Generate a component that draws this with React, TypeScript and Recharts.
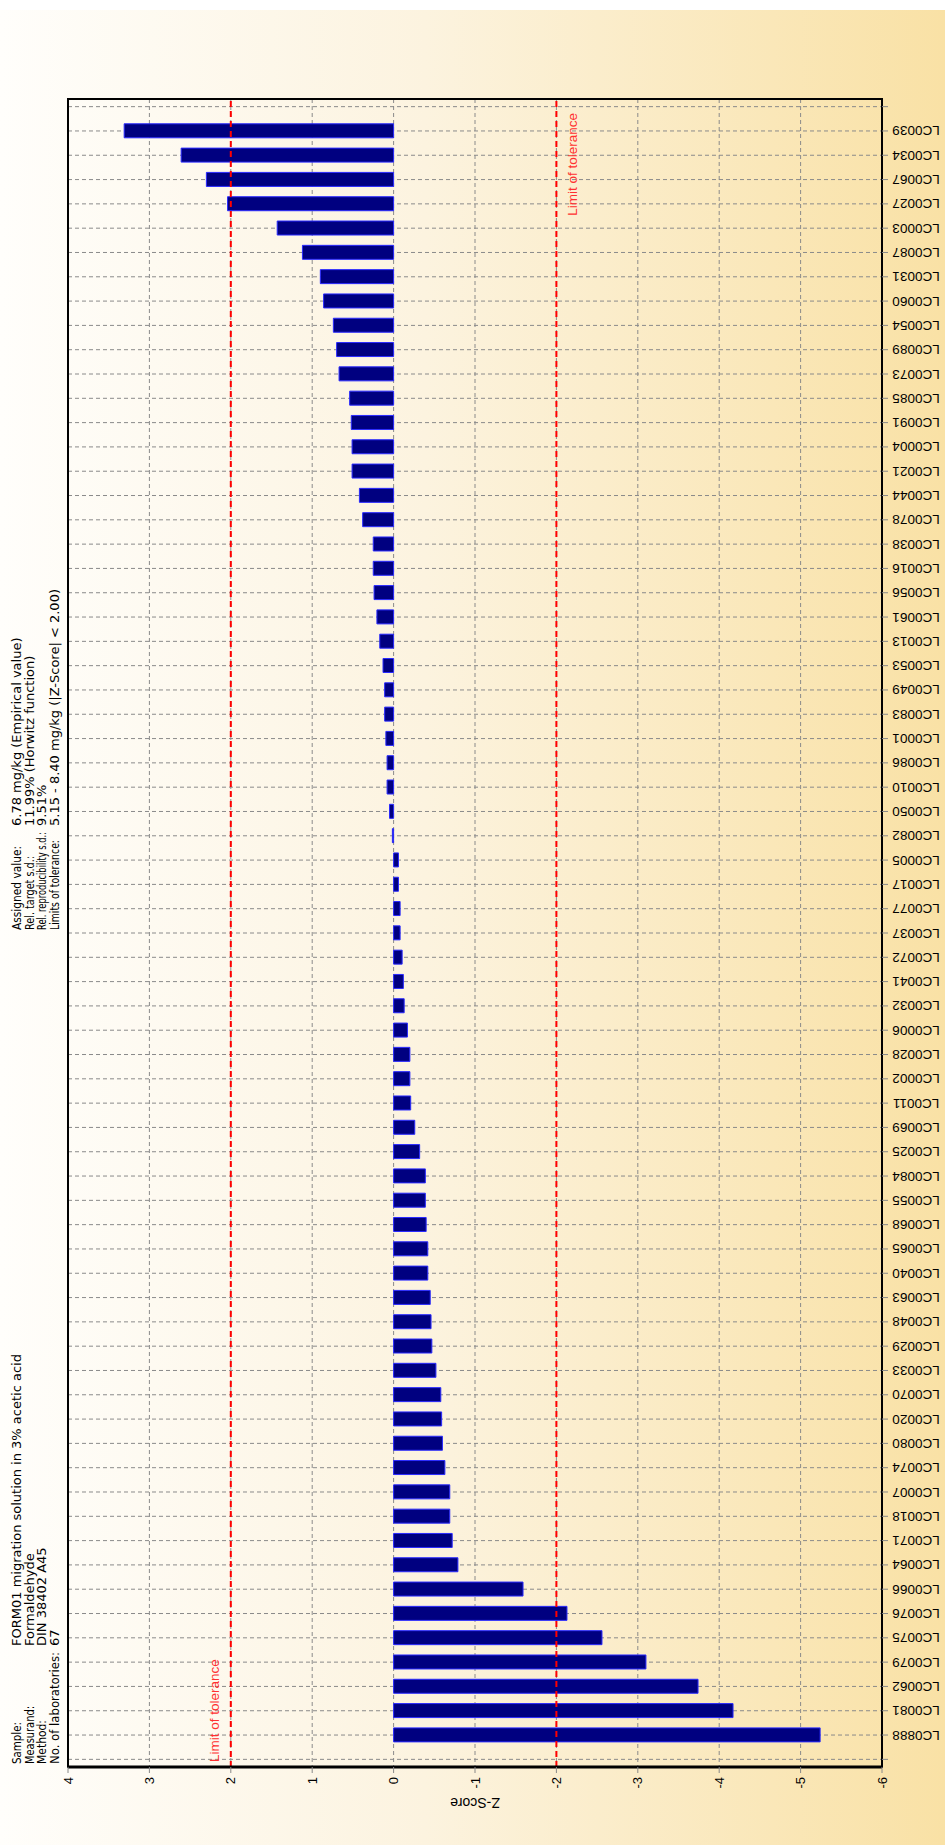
import { BarChart, Bar, XAxis, YAxis, CartesianGrid, ReferenceLine, ReferenceArea } from 'recharts'

// Labs, sorted as in the printout (top row first)
const labs = [
  'LC0039', 'LC0034', 'LC0067', 'LC0027', 'LC0003', 'LC0087', 'LC0031', 'LC0060', 'LC0054', 'LC0089',
  'LC0073', 'LC0085', 'LC0091', 'LC0004', 'LC0021', 'LC0044', 'LC0078', 'LC0038', 'LC0016', 'LC0056',
  'LC0061', 'LC0013', 'LC0053', 'LC0049', 'LC0083', 'LC0001', 'LC0086', 'LC0010', 'LC0050', 'LC0082',
  'LC0005', 'LC0017', 'LC0077', 'LC0037', 'LC0072', 'LC0041', 'LC0032', 'LC0006', 'LC0028', 'LC0002',
  'LC0011', 'LC0069', 'LC0025', 'LC0084', 'LC0055', 'LC0068', 'LC0065', 'LC0040', 'LC0063', 'LC0048',
  'LC0029', 'LC0033', 'LC0070', 'LC0020', 'LC0080', 'LC0074', 'LC0007', 'LC0018', 'LC0071', 'LC0064',
  'LC0066', 'LC0076', 'LC0075', 'LC0079', 'LC0062', 'LC0081', 'LC0888',
]

const zScores = [
  3.31, 2.61, 2.30, 2.04, 1.43, 1.12, 0.90, 0.86, 0.74, 0.70,
  0.67, 0.54, 0.52, 0.51, 0.51, 0.42, 0.38, 0.25, 0.25, 0.24,
  0.205, 0.17, 0.13, 0.11, 0.11, 0.095, 0.08, 0.08, 0.05, 0.015,
  -0.06, -0.06, -0.08, -0.08, -0.105, -0.12, -0.13, -0.17, -0.2, -0.2,
  -0.21, -0.26, -0.32, -0.39, -0.39, -0.40, -0.42, -0.42, -0.45, -0.46,
  -0.47, -0.52, -0.58, -0.59, -0.60, -0.63, -0.69, -0.69, -0.72, -0.79,
  -1.59, -2.13, -2.56, -3.1, -3.74, -4.17, -5.24,
]

const zTicks = [4, 3, 2, 1, 0, -1, -2, -3, -4, -5, -6]
const toleranceLimits = [2, -2]

const sampleLabels = ['Sample:', 'Measurand:', 'Method:', 'No. of laboratories:']
const sampleLabelLen = [42, 58, 44, 112]
const sampleValues = ['FORM01 migration solution in 3% acetic acid', 'Formaldehyde', 'DIN 38402 A45', '67']
const statLabels = ['Assigned value:', 'Rel. target s.d.:', 'Rel. reproducibility s.d.:', 'Limits of tolerance:']
const statLabelLen = [84, 74, 98, 90]
const statValues = ['6.78 mg/kg (Empirical value)', '11.99% (Horwitz function)', '9.51%', '5.15 - 8.40 mg/kg   (|Z-Score| < 2.00)']

const data = labs.map((lab, i) => ({ lab, idx: i, z: zScores[i] }))
// one empty row above and below the labs, like the original frame
const rowTicks = Array.from({ length: labs.length + 2 }, (_, i) => i - 1)
const rowPad = 1.315
const rowDomain = [-rowPad, labs.length - 1 + rowPad]

const W = 945
const H = 1845
const font = '"Liberation Sans", Arial, sans-serif'

const LabTick = (props: any) => {
  const { x, y, payload } = props
  const name = labs[payload.value]
  if (!name) return null
  const cx = x + 26
  return (
    <text x={cx} y={y} textAnchor="middle" dominantBaseline="central" fontSize={13.5}
      fontFamily={font} fill="#000" transform={`rotate(180 ${cx} ${y})`}>
      {name}
    </text>
  )
}

const ZTick = (props: any) => {
  const { x, y, payload } = props
  return (
    <text x={x} y={y} dy="0.36em" textAnchor="end" fontSize={13} fontFamily={font} fill="#000"
      transform={`rotate(-90 ${x} ${y})`}>
      {payload.value}
    </text>
  )
}

const LimitLabel = (props: any) => {
  const { viewBox, atTop } = props
  if (!viewBox) return null
  const { x, y, height } = viewBox
  const bx = atTop ? x + 21 : x - 12
  const by = atTop ? y + 14 : y + height - 5
  return (
    <text x={bx} y={by} textAnchor={atTop ? 'end' : 'start'} fontSize={13.5} fontFamily={font}
      fill="#ff3030" transform={`rotate(-90 ${bx} ${by})`}>
      Limit of tolerance
    </text>
  )
}

const InfoBlock = ({ labels, labelLen, values, labelY, valueY }: any) => (
  <g fontFamily='"DejaVu Sans", sans-serif' fontSize={13} fill="#000">
    {labels.map((t: string, i: number) => {
      const bx = 21 + i * 12.5
      return (
        <g key={t}>
          <text x={bx} y={labelY} textLength={labelLen[i]} lengthAdjust="spacingAndGlyphs"
            transform={`rotate(-90 ${bx} ${labelY})`}>{t}</text>
          <text x={bx} y={valueY} transform={`rotate(-90 ${bx} ${valueY})`}>{values[i]}</text>
        </g>
      )
    })}
  </g>
)

export default function App() {
  return (
    <div style={{
      position: 'absolute', left: 0, top: 0, width: W, height: H,
      background: 'linear-gradient(to right, #fffefb 0%, #fcf3df 45%, #f9e1a5 100%)',
    }}>
      <div style={{ position: 'absolute', left: 0, top: 0, width: W, height: 10, background: '#fff' }} />
      <div style={{ position: 'absolute', left: 0, top: 0 }}>
        <BarChart width={W} height={H} data={data} layout="vertical"
          margin={{ top: 99, right: 3, bottom: 38, left: 60 }} barSize={14}>
          <CartesianGrid yAxisId="lab" stroke="#8a8a8a" strokeDasharray="4 3" />
          <XAxis type="number" dataKey="z" domain={[-6, 4]} ticks={zTicks} reversed allowDataOverflow
            height={40} tick={<ZTick />} tickSize={6} tickMargin={4} interval={0}
            axisLine={{ stroke: '#000', strokeWidth: 3 }} tickLine={{ stroke: '#888' }} />
          <YAxis yAxisId="lab" orientation="right" type="number" dataKey="idx" domain={rowDomain}
            ticks={rowTicks} allowDataOverflow width={60} interval={0} tick={<LabTick />}
            tickSize={6} tickLine={{ stroke: '#888' }} axisLine={{ stroke: '#000', strokeWidth: 2 }} />
          <YAxis yAxisId="edge" orientation="left" type="number" dataKey="idx" domain={rowDomain}
            ticks={rowTicks} allowDataOverflow width={8} interval={0} tick={false}
            tickSize={6} tickLine={{ stroke: '#888' }} axisLine={{ stroke: '#000', strokeWidth: 2 }} />
          <ReferenceArea yAxisId="lab" x1={4} x2={-6} y1={rowDomain[0]} y2={rowDomain[1]}
            fill="none" stroke="#000" strokeWidth={2} />
          {toleranceLimits.map((lim) => (
            <ReferenceLine key={lim} yAxisId="lab" x={lim} stroke="#ff0000" strokeWidth={2}
              strokeDasharray="6 4" label={<LimitLabel atTop={lim < 0} />} />
          ))}
          <Bar yAxisId="lab" dataKey="z" fill="#000080" stroke="#2a2aff" strokeWidth={1}
            isAnimationActive={false} />
        </BarChart>
      </div>
      <svg width={W} height={H} style={{ position: 'absolute', left: 0, top: 0, pointerEvents: 'none' }}>
        <InfoBlock labels={sampleLabels} labelLen={sampleLabelLen} values={sampleValues} labelY={1764} valueY={1646} />
        <InfoBlock labels={statLabels} labelLen={statLabelLen} values={statValues} labelY={930} valueY={826} />
        <text x={475} y={1803} textAnchor="middle" dominantBaseline="central" fontSize={14}
          fontFamily={font} fill="#000" transform="rotate(180 475 1803)">
          Z-Score
        </text>
      </svg>
    </div>
  )
}
